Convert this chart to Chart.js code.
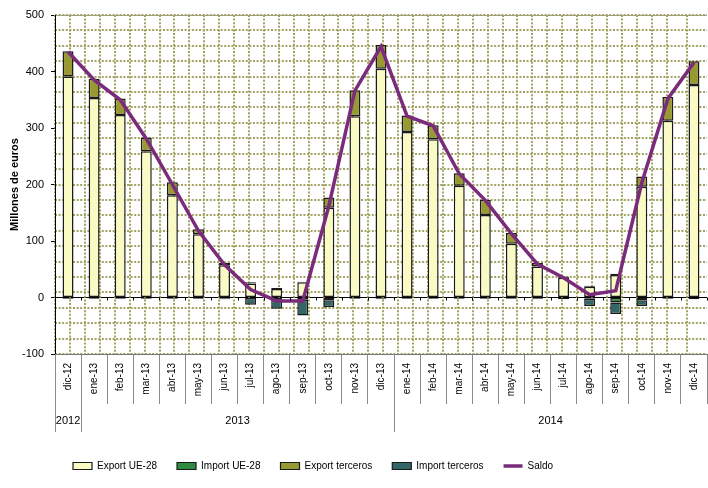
<!DOCTYPE html>
<html>
<head>
<meta charset="utf-8">
<title>Saldo comercial</title>
<script src="https://cdn.jsdelivr.net/npm/chart.js@4.4.1/dist/chart.umd.min.js"></script>
<style>
    html, body { margin: 0; padding: 0; background: #fff; }
</style>
</head>
<body>
<canvas id="chart" width="708" height="488"></canvas>

<script>
    // months (category axis) and the year row under them
    const months = [
        'dic-12',
        'ene-13', 'feb-13', 'mar-13', 'abr-13', 'may-13', 'jun-13',
        'jul-13', 'ago-13', 'sep-13', 'oct-13', 'nov-13', 'dic-13',
        'ene-14', 'feb-14', 'mar-14', 'abr-14', 'may-14', 'jun-14',
        'jul-14', 'ago-14', 'sep-14', 'oct-14', 'nov-14', 'dic-14',
    ]
    const years = ['2012', '2013', '2014']
    const yearFirst = [0, 1, 13]
    const yearLast = [0, 12, 24]

    // millones de euros
    const exportUE = [391, 353, 323, 259, 181, 112, 57, 25, 15, 27, 159, 321, 405,
        293, 280, 198, 146, 95, 55, 35, 19, 40, 196, 313, 376]
    const importUE = [-1, -1, -1, -1, -1, -1, -2, -1, -1, -4, -5, -1, -2,
        -1, -1, -1, -1, -1, -2, -1, -2, -9, -5, -1, -1]
    const exportTer = [45, 34, 29, 24, 23, 9, 4, 2, 2, 1, 18, 46, 42,
        29, 25, 22, 27, 19, 6, 2, 2, 2, 18, 42, 42]
    const importTer = [-1, -1, -1, -1, -1, -1, -1, -12, -19, -28, -12, -1, -1,
        -1, -1, -1, -1, -1, -1, -2, -13, -20, -10, -1, -2]
    const saldo = [435, 385, 350, 281, 200, 118, 58, 14, -6, -6, 162, 366, 444,
        321, 304, 219, 172, 113, 59, 35, 5, 12, 203, 352, 416]

    const narrow = "'Liberation Sans Narrow', 'Arial Narrow', 'Liberation Sans', Arial, sans-serif"
    const regular = "'Liberation Sans', Arial, sans-serif"
    Chart.defaults.font.family = narrow
    Chart.defaults.color = '#000'

    // dotted background grid, independent of the value ticks
    const dots = {
        grid: { color: '#a3a363', lineWidth: 2, drawTicks: false },
        border: { display: false, dash: [2, 1.6] },
    }

    const bar = (label, data, color) => ({
        label,
        data,
        backgroundColor: color,
        borderColor: '#1a1a1a',
        borderWidth: 1.5,
        borderSkipped: false,
        barPercentage: 0.42,
        categoryPercentage: 1,
        order: 1,
    })

    // category separators, year row and small ticks on the zero line
    const yearAxis = {
        id: 'yearAxis',
        afterLayout(chart) {
            chart.legend.left -= 2
            chart.legend.right -= 2
        },
        afterDraw(chart) {
            const { ctx } = chart
            const { x, y } = chart.scales
            const half = (x.getPixelForValue(1) - x.getPixelForValue(0)) / 2
            const zero = y.getPixelForValue(0)
            ctx.save()
            ctx.lineWidth = 1
            ctx.strokeStyle = '#000'
            months.forEach((m, i) => {
                const px = Math.round(x.getPixelForValue(i) + half) + 0.5
                ctx.beginPath()
                ctx.moveTo(px, zero)
                ctx.lineTo(px, zero + 3)
                ctx.stroke()
            })
            ctx.strokeStyle = '#8a8a8a'
            ctx.fillStyle = '#000'
            ctx.font = '11px ' + narrow
            ctx.textAlign = 'center'
            ctx.textBaseline = 'middle'
            years.forEach((yr, k) => {
                const left = x.getPixelForValue(yearFirst[k]) - half
                const right = x.getPixelForValue(yearLast[k]) + half
                ctx.beginPath()
                ctx.moveTo(Math.round(left) + 0.5, y.bottom)
                ctx.lineTo(Math.round(left) + 0.5, y.bottom + 78)
                ctx.stroke()
                ctx.fillText(yr, (left + right) / 2, y.bottom + 67)
            })
            ctx.restore()
        },
    }

    const chart = new Chart('chart', {
        type: 'bar',
        data: {
            labels: months,
            datasets: [
                bar('Export UE-28', exportUE, '#fafac4'),
                bar('Import UE-28', importUE, '#2e8b40'),
                bar('Export terceros', exportTer, '#999933'),
                bar('Import terceros', importTer, '#336666'),
                {
                    type: 'line',
                    label: 'Saldo',
                    data: saldo,
                    stack: 'saldo',
                    borderColor: '#7b2b7b',
                    borderWidth: 3.5,
                    pointRadius: 0,
                    tension: 0,
                    order: 0,
                },
            ],
        },
        options: {
            responsive: false,
            animation: false,
            layout: { padding: { top: 15, right: 1, bottom: 7, left: 0 } },
            plugins: {
                tooltip: { enabled: false },
                legend: {
                    position: 'bottom',
                    align: 'start',
                    fullSize: false,
                    labels: {
                        usePointStyle: true,
                        pointStyleWidth: 19,
                        boxHeight: 7,
                        padding: 20,
                        font: { size: 10 },
                        color: '#000',
                        sort: (a, b) => a.datasetIndex - b.datasetIndex,
                        generateLabels: c => Chart.defaults.plugins.legend.labels.generateLabels(c).map(item => {
                            const ds = c.data.datasets[item.datasetIndex]
                            if (ds.type === 'line') {
                                item.pointStyle = 'line'
                                item.strokeStyle = ds.borderColor
                                item.lineWidth = ds.borderWidth
                            } else {
                                item.pointStyle = 'rect'
                                item.lineWidth = 1.2
                            }
                            return item
                        }),
                    },
                },
            },
            scales: {
                x: {
                    stacked: true,
                    offset: true,
                    grid: { offset: true, drawOnChartArea: false, tickLength: 50, color: '#8a8a8a' },
                    border: { color: '#777' },
                    ticks: {
                        minRotation: 90,
                        maxRotation: 90,
                        autoSkip: false,
                        padding: -41,
                        font: { size: 10, family: regular },
                    },
                    afterFit: s => { s.height = 87 },
                },
                y: {
                    stacked: true,
                    min: -100,
                    max: 500,
                    ticks: { stepSize: 100, padding: 7, font: { size: 11 } },
                    grid: {
                        color: c => c.tick.value === 0 ? '#000'
                            : (c.tick.value === 500 || c.tick.value === -100) ? '#999' : 'rgba(0,0,0,0)',
                        tickColor: '#000',
                        tickLength: 4,
                    },
                    border: { color: '#000' },
                    title: {
                        display: true,
                        text: 'Millones de euros',
                        font: { size: 11, weight: 'bold', family: regular },
                        padding: { top: 8, bottom: 0 },
                    },
                    afterFit: s => { s.width = 55 },
                },
                gx: {
                    type: 'linear',
                    position: 'top',
                    min: 0,
                    max: 42.7,
                    ticks: { display: false, stepSize: 1 },
                    ...dots,
                    afterFit: s => { s.height = 0 },
                },
                gy: {
                    type: 'linear',
                    position: 'right',
                    min: 0,
                    max: 22,
                    ticks: { display: false, stepSize: 1 },
                    ...dots,
                    afterFit: s => { s.width = 0 },
                },
            },
        },
        plugins: [yearAxis],
    })
</script>
</body>
</html>
